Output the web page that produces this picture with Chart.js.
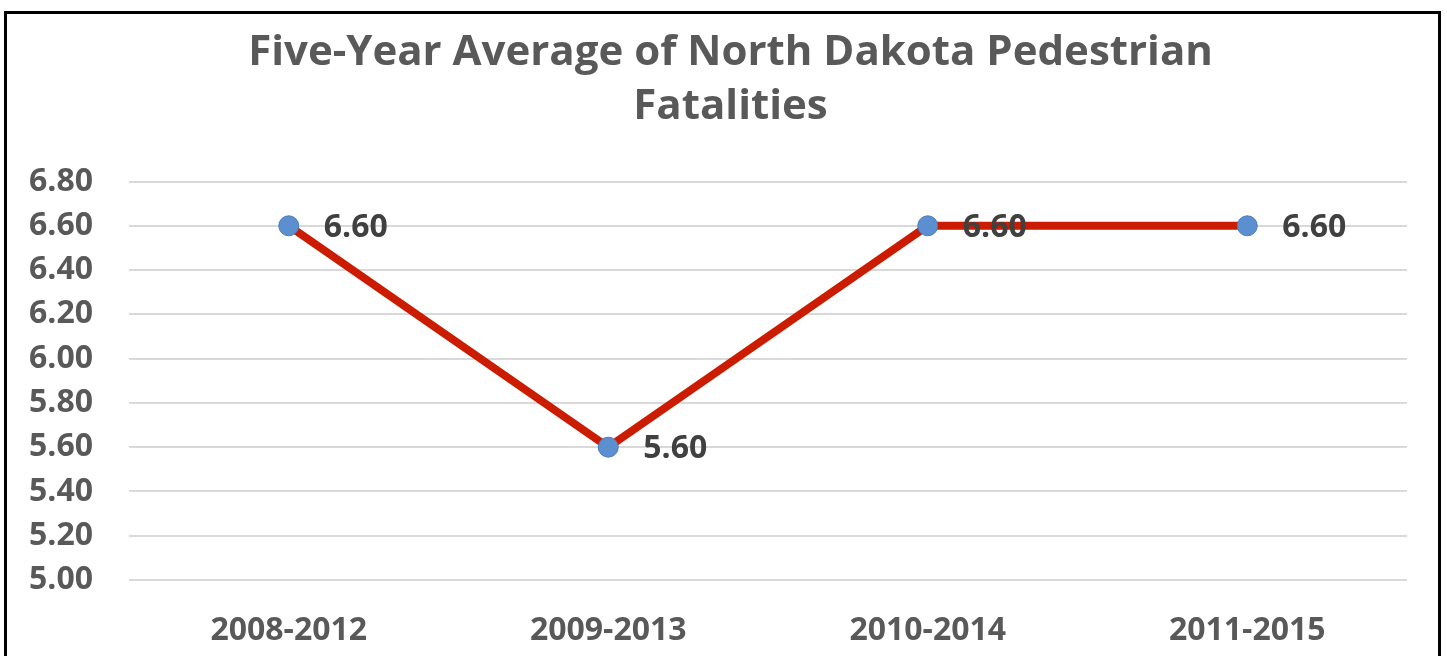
<!DOCTYPE html>
<html>
<head>
<meta charset="utf-8">
<script src="https://cdn.jsdelivr.net/npm/chart.js@4.4.0/dist/chart.umd.min.js"></script>
<style>
  html, body { margin: 0; padding: 0; background: #fff; }
  #frame {
    position: absolute; left: 4px; top: 11px;
    width: 1431px; height: 642px;
    border: 3px solid #000; border-bottom: none;
  }
  #chart { display: block; }
</style>
</head>
<body>
<div id="frame"><canvas id="chart"></canvas></div>
<script>
const periods = ['2008-2012', '2009-2013', '2010-2014', '2011-2015'];
const avgFatalities = [6.6, 5.6, 6.6, 6.6];
const yTicks = [5.0, 5.2, 5.4, 5.6, 5.8, 6.0, 6.2, 6.4, 6.6, 6.8];
const chartTitle = ['Five-Year Average of North Dakota Pedestrian', 'Fatalities'];

const FONT = '"Open Sans", Lato, sans-serif';

// value labels to the right of each point
const pointLabels = {
  id: 'pointLabels',
  afterDatasetsDraw(chart) {
    const ctx = chart.ctx;
    const meta = chart.getDatasetMeta(0);
    ctx.save();
    ctx.font = 'bold 32px ' + FONT;
    ctx.fillStyle = '#404040';
    ctx.textAlign = 'left';
    ctx.textBaseline = 'middle';
    meta.data.forEach((pt, i) => {
      ctx.fillText(avgFatalities[i].toFixed(2), pt.x + 35, pt.y + 2);
    });
    ctx.restore();
  }
};

new Chart(document.getElementById('chart'), {
  type: 'line',
  data: {
    labels: periods,
    datasets: [{
      data: avgFatalities,
      borderColor: '#cc1c00',
      borderWidth: 8,
      tension: 0,
      pointRadius: 10,
      pointBackgroundColor: '#5b8fd0',
      pointBorderColor: '#4a7bbb',
      pointBorderWidth: 1
    }]
  },
  options: {
    responsive: true,
    maintainAspectRatio: false,
    animation: false,
    layout: { padding: { left: 16, right: 0, top: 0, bottom: 0 } },
    plugins: {
      legend: { display: false },
      tooltip: { enabled: false },
      title: {
        display: true,
        text: chartTitle,
        color: '#595959',
        font: { family: FONT, size: 42, weight: 'bold', lineHeight: 1.28 },
        padding: { top: 12, bottom: 48 }
      }
    },
    scales: {
      x: {
        offset: true,
        grid: { display: false },
        border: { display: false },
        ticks: {
          color: '#595959',
          font: { family: FONT, size: 32, weight: 'bold' },
          padding: 24,
          maxRotation: 0
        },
        afterFit: s => { s.height = 76; }
      },
      y: {
        min: 5,
        max: 6.8,
        grid: { color: '#d9d9d9', lineWidth: 2, drawTicks: false },
        border: { display: false },
        afterBuildTicks: s => { s.ticks = yTicks.map(v => ({ value: v })); },
        ticks: {
          color: '#595959',
          font: { family: FONT, size: 32, weight: 'bold' },
          padding: 36,
          callback: v => Number(v).toFixed(2)
        },
        afterFit: s => { s.width = 106; }
      },
      // empty right-hand axis, only reserves the margin right of the plot
      yPad: {
        position: 'right',
        grid: { display: false },
        border: { display: false },
        ticks: { display: false },
        afterFit: s => { s.width = 31; }
      }
    }
  },
  plugins: [pointLabels]
});
</script>
</body>
</html>
